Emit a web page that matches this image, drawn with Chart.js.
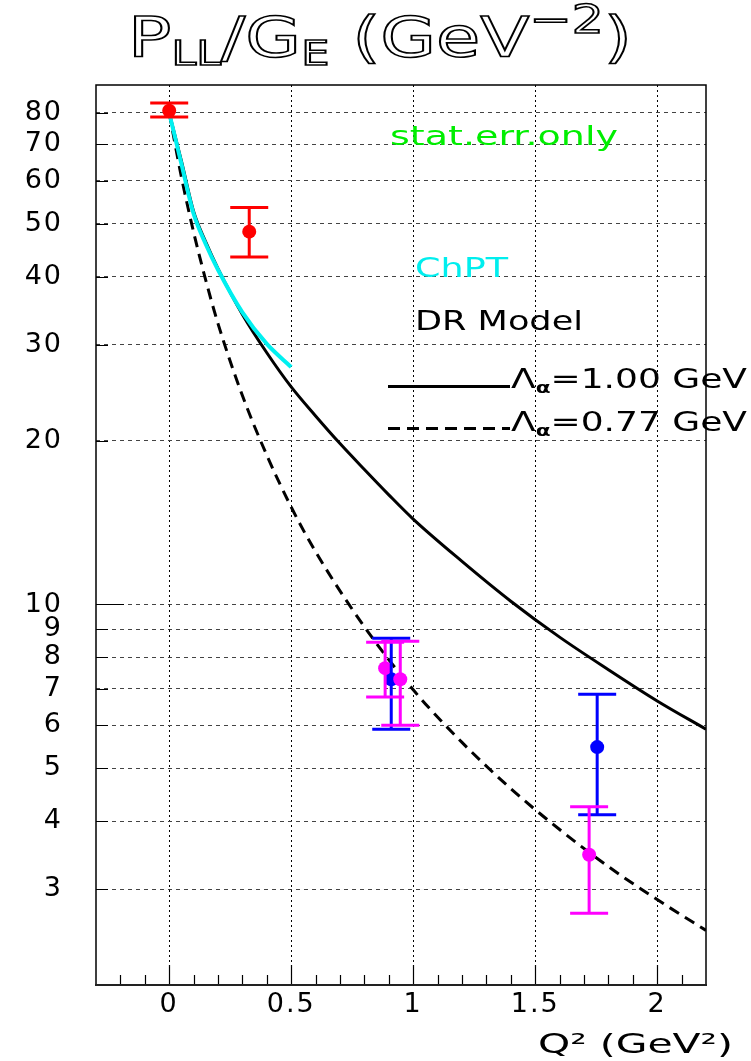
<!DOCTYPE html>
<html><head><meta charset="utf-8">
<script src="https://cdn.jsdelivr.net/npm/chart.js@4/dist/chart.umd.min.js"></script>
<style>
html,body{margin:0;padding:0;background:#fff;}
#wrap{position:relative;width:751px;height:1061px;overflow:hidden;background:#fff;}
canvas{position:absolute;left:0;top:0;}
.t{position:absolute;white-space:nowrap;font-family:"DejaVu Sans",sans-serif;line-height:1;transform-origin:0 0;}
.sub{font-size:0.6em;position:relative;top:0.35em;}
</style></head><body>
<div id="wrap"><canvas id="c" width="751" height="1061"></canvas></div>
<script>
// ---- axis ticks ----
const xTicks = [0, 0.5, 1, 1.5, 2];
const xMinorTicks = [-0.2, -0.1, 0.1, 0.2, 0.3, 0.4, 0.6, 0.7, 0.8, 0.9, 1.1, 1.2, 1.3, 1.4, 1.6, 1.7, 1.8, 1.9, 2.1];
const yTicks = [3, 4, 5, 6, 7, 8, 9, 10, 20, 30, 40, 50, 60, 70, 80];

// ---- DR model, Lambda_alpha = 1.00 GeV (solid) ----
const dr100X = [0, 0.05, 0.1, 0.15, 0.2, 0.3, 0.4, 0.5, 0.6, 0.7, 0.8, 0.9, 1.0, 1.2, 1.4, 1.6, 1.8, 2.0, 2.2];
const dr100Y = [80, 65.3, 52.7, 46.3, 41.4, 34.1, 29.0, 25.1, 22.2, 19.75, 17.7, 15.9, 14.35, 12.0, 10.14, 8.71, 7.59, 6.65, 5.90];
// ---- DR model, Lambda_alpha = 0.77 GeV (dashed) ----
const dr077X = [0, 0.05, 0.1, 0.15, 0.2, 0.3, 0.4, 0.5, 0.6, 0.8, 1.0, 1.2, 1.4, 1.6, 1.8, 2.0, 2.2];
const dr077Y = [80, 61, 48.3, 39.4, 32.8, 24.2, 18.8, 15.1, 12.5, 9.1, 6.97, 5.58, 4.59, 3.86, 3.30, 2.87, 2.52];
// ---- ChPT (cyan) ----
const chptX = [0, 0.05, 0.1, 0.15, 0.2, 0.3, 0.4, 0.5];
const chptY = [80, 64.5, 52.2, 45.9, 41.2, 34.4, 30.1, 27.3];

// ---- data points with stat. errors ----
const redX = [0, 0.328];
const redY = [80.7, 48.4];
const redLow = [78.6, 43.5];
const redHigh = [83.4, 53.6];

const blueX = [0.91, 1.754];
const blueY = [7.29, 5.47];
const blueLow = [5.90, 4.11];
const blueHigh = [8.67, 6.84];

const magX = [0.885, 0.947, 1.721];
const magY = [7.64, 7.29, 3.47];
const magLow = [6.76, 6.0, 2.71];
const magHigh = [8.52, 8.56, 4.25];

const pts = (xs, ys) => xs.map((x, i) => ({x: x, y: ys[i]}));

const errSets = [
  {color: '#ff0000', x: redX, lo: redLow, hi: redHigh},
  {color: '#0000ff', x: blueX, lo: blueLow, hi: blueHigh},
  {color: '#ff00ff', x: magX, lo: magLow, hi: magHigh}
];

const framePlugin = {
  id: 'frame',
  beforeDraw(chart) { chart.ctx.letterSpacing = '2px'; },
  beforeDatasetsDraw(chart) {
    chart.ctx.letterSpacing = '0px';
    const ctx = chart.ctx, a = chart.chartArea, xs = chart.scales.x, ys = chart.scales.y;
    ctx.save();
    ctx.strokeStyle = '#000';
    ctx.lineWidth = 1.2;
    ctx.beginPath();
    xMinorTicks.forEach(v => { const p = Math.round(xs.getPixelForValue(v)) + 0.5; ctx.moveTo(p, a.bottom); ctx.lineTo(p, a.bottom - 10); });
    xTicks.forEach(v => { const p = Math.round(xs.getPixelForValue(v)) + 0.5; ctx.moveTo(p, a.bottom); ctx.lineTo(p, a.bottom - 20); });
    yTicks.forEach(v => { const p = Math.round(ys.getPixelForValue(v)) + 0.5; const L = (v === 10) ? 28 : 12; ctx.moveTo(a.left, p); ctx.lineTo(a.left + L, p); });
    ctx.stroke();
    ctx.lineWidth = 1.5;
    ctx.strokeRect(a.left, a.top, a.right - a.left, a.bottom - a.top);
    ctx.lineWidth = 2.2;
    ctx.strokeStyle = '#222';
    ctx.beginPath(); ctx.moveTo(a.left - 1, a.bottom); ctx.lineTo(a.right + 1, a.bottom); ctx.stroke();
    ctx.restore();
  },
  afterDatasetsDraw(chart) {
    const ctx = chart.ctx, xs = chart.scales.x, ys = chart.scales.y;
    errSets.forEach(s => {
      ctx.save();
      ctx.strokeStyle = s.color;
      ctx.lineWidth = 3;
      ctx.beginPath();
      s.x.forEach((xv, i) => {
        const px = xs.getPixelForValue(xv), pl = ys.getPixelForValue(s.lo[i]), ph = ys.getPixelForValue(s.hi[i]);
        ctx.moveTo(px, pl); ctx.lineTo(px, ph);
        ctx.moveTo(px - 19, pl); ctx.lineTo(px + 19, pl);
        ctx.moveTo(px - 19, ph); ctx.lineTo(px + 19, ph);
      });
      ctx.stroke();
      ctx.restore();
    });
  }
};

const lineDs = (label, data, color, width, dash, order) => ({
  type: 'line', label: label, data: data, borderColor: color, borderWidth: width, borderDash: dash,
  pointRadius: 0, fill: false, cubicInterpolationMode: 'monotone', order: order
});
const ptDs = (label, data, color, order) => ({
  type: 'scatter', label: label, data: data, backgroundColor: color, borderColor: color,
  pointRadius: 7, borderWidth: 0, order: order
});

new Chart(document.getElementById('c'), {
  data: {
    datasets: [
      ptDs('magenta', pts(magX, magY), '#ff00ff', 0),
      ptDs('blue', pts(blueX, blueY), '#0000ff', 1),
      ptDs('red', pts(redX, redY), '#ff0000', 2),
      lineDs('ChPT', pts(chptX, chptY), '#00f0f0', 4, [], 3),
      lineDs('DR 1.00', pts(dr100X, dr100Y), '#000000', 3, [], 4),
      lineDs('DR 0.77', pts(dr077X, dr077Y), '#000000', 3, [11, 7], 5)
    ]
  },
  options: {
    responsive: false, animation: false, devicePixelRatio: 1,
    layout: {padding: {left: 0, right: 45, top: 85, bottom: 0}},
    plugins: {legend: {display: false}, tooltip: {enabled: false}, title: {display: false}},
    scales: {
      x: {
        type: 'linear', min: -0.3, max: 2.2,
        afterBuildTicks: s => { s.ticks = xTicks.map(v => ({value: v})); },
        afterFit: s => { s.height = 76; },
        ticks: {font: {family: 'DejaVu Sans', size: 27}, color: '#000', padding: 4, maxRotation: 0, autoSkip: false,
                callback: v => String(v)},
        grid: {drawTicks: false, color: '#000', lineWidth: 1},
        border: {display: false, dash: [2, 3]}
      },
      y: {
        type: 'logarithmic', min: 2, max: 90,
        afterBuildTicks: s => { s.ticks = yTicks.map(v => ({value: v})); },
        afterFit: s => { s.width = 96; },
        ticks: {font: {family: 'DejaVu Sans', size: 27}, color: '#000', padding: 33, autoSkip: false,
                callback: v => String(v)},
        grid: {drawTicks: false, color: '#444', lineWidth: 1},
        border: {display: false, dash: [4, 4]}
      }
    }
  },
  plugins: [framePlugin]
});

// ---- text overlays (real text) ----
const wrap = document.getElementById('wrap');
function place(html, left, baseline, size, width, color, extra) {
  const d = document.createElement('div');
  d.className = 't';
  d.innerHTML = html;
  d.style.left = left + 'px';
  d.style.top = (baseline - 0.846 * size) + 'px';
  d.style.fontSize = size + 'px';
  d.style.color = color;
  if (extra) Object.assign(d.style, extra);
  wrap.appendChild(d);
  const w = d.getBoundingClientRect().width;
  d.style.transform = 'scaleX(' + (width / w) + ')';
  return d;
}
place('P<span class="sub" style="font-size:0.62em;top:0.24em">LL</span>/G<span class="sub" style="font-size:0.62em;top:0.24em">E</span> (GeV<span style="font-size:0.7em;position:relative;top:-0.6em">−2</span>)',
      128, 57, 55, 504, '#fff', {webkitTextStroke: '1.6px #000'});
place('stat.err.only', 390, 145, 26, 228, '#00ee00');
place('ChPT', 415, 277, 27, 93, '#00eeee');
place('DR Model', 415, 330, 27, 168, '#000');
place('Λ<span class="sub" style="font-weight:bold">α</span>=1.00 GeV', 511, 388, 26, 236, '#000');
place('Λ<span class="sub" style="font-weight:bold">α</span>=0.77 GeV', 511, 431, 26, 236, '#000');
place('Q² (GeV²)', 538, 1053, 27, 195, '#000');

// legend line samples
function legLine(top, height, bg) {
  const d = document.createElement('div');
  d.style.position = 'absolute';
  d.style.left = '388px';
  d.style.width = '122px';
  d.style.top = top + 'px';
  d.style.height = height + 'px';
  d.style.background = bg;
  wrap.appendChild(d);
}
legLine(385, 2.5, '#000');
legLine(427, 3, 'repeating-linear-gradient(to right, #000 0px, #000 12px, transparent 12px, transparent 19px)');
</script>
</body></html>
